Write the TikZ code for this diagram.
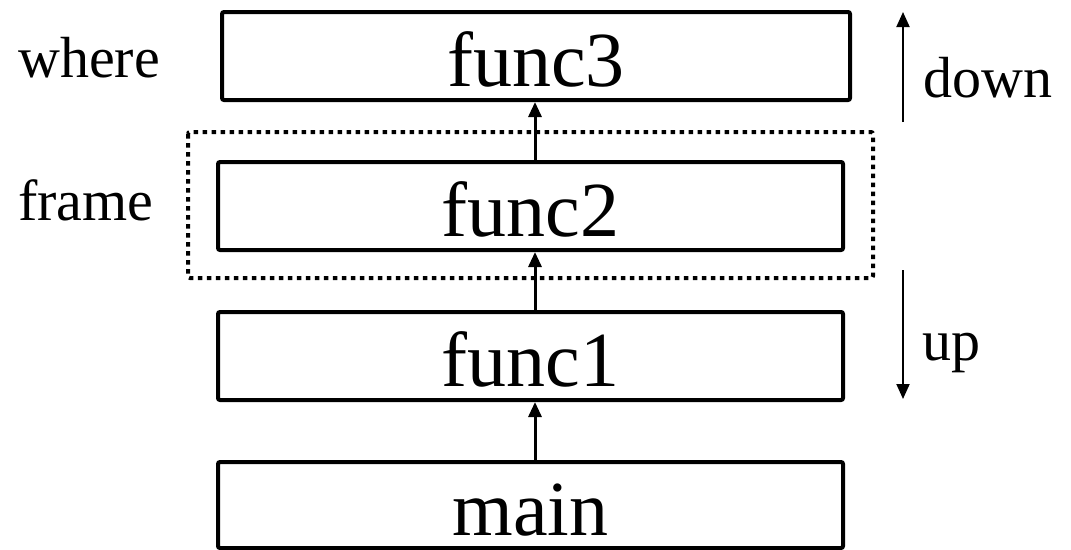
\documentclass[tikz,border=0pt]{standalone}
\usepackage{fontspec}
\setmainfont{Liberation Serif}
\usetikzlibrary{arrows.meta}
\begin{document}
\begin{tikzpicture}[x=1pt,y=-1pt,
  fbox/.style={draw, line width=4pt, rounded corners=2pt, minimum height=88pt,
    inner sep=0pt, text height=60pt, text depth=0pt,
    font=\fontsize{78pt}{80pt}\selectfont},
  lbl/.style={anchor=base west, inner sep=0pt, font=\fontsize{58pt}{60pt}\selectfont},
  call/.style={line width=3pt, -{Triangle[length=15pt,width=13pt]}},
  dir/.style={line width=2pt, -{Triangle[length=15pt,width=13pt]}},
  framebox/.style={draw, line width=4pt, dash pattern=on 4.5pt off 4.5pt, rounded corners=2pt}]
\useasboundingbox (0,0) rectangle (1071,549);
\draw[framebox] (188,132) rectangle (873,278);
\node[fbox, minimum width=628pt] (f3) at (536,56) {func3};
\node[fbox, minimum width=625pt] (f2) at (530.5,206) {func2};
\node[fbox, minimum width=625pt] (f1) at (530.5,356) {func1};
\node[fbox, minimum width=625pt, minimum height=86pt] (m) at (530.5,505) {main};
\draw[call] (m.north -| 535,0) -- (f1.south -| 535,0);
\draw[call] (f1.north -| 535,0) -- (f2.south -| 535,0);
\draw[call] (f2.north -| 535,0) -- (f3.south -| 535,0);
\node[lbl] (where) at (18,77) {where};
\node[lbl] (frame) at (18,220) {frame};
\node[lbl] (down) at (923,97) {down};
\node[lbl] (up) at (922,360) {up};
\coordinate (d1) at (903,122);
\coordinate (d2) at (903,12);
\coordinate (u1) at (903,270);
\coordinate (u2) at (903,399);
\draw[dir] (d1) -- (d2);
\draw[dir] (u1) -- (u2);
\end{tikzpicture}
\end{document}
